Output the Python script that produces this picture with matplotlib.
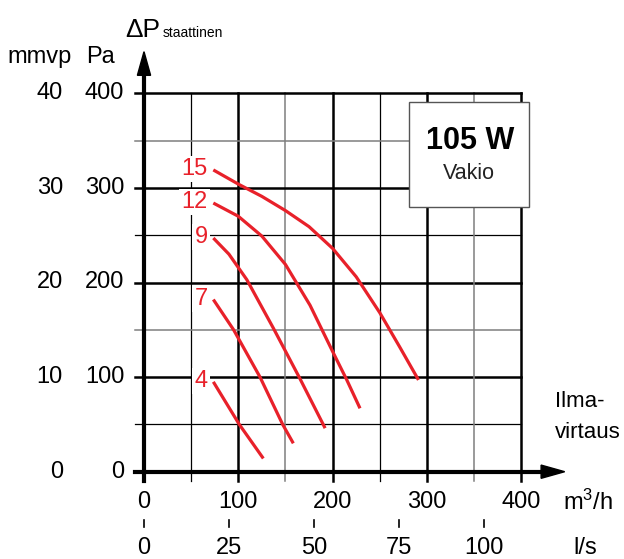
import matplotlib
matplotlib.use("Agg")
from matplotlib import pyplot as plt, patches

plt.rcParams["font.family"] = ["Liberation Sans", "DejaVu Sans"]
plt.rcParams["mathtext.fontset"] = "custom"
plt.rcParams["mathtext.rm"] = "Liberation Sans"
plt.rcParams["mathtext.it"] = "Liberation Sans"

# fan curves: airflow m3/h -> static pressure Pa, one per control voltage
curve_names = ["15", "12", "9", "7", "4"]
flow_15 = [73.5, 100, 125, 150, 175, 200, 225, 250, 271, 291]
pa_15 = [319, 304, 291, 276, 259, 236, 206, 168, 132, 97]
flow_12 = [73.5, 100, 125, 150, 176, 200, 215, 229]
pa_12 = [284, 270, 249, 219, 176, 127, 97, 67]
flow_9 = [73.5, 90, 109, 137, 165, 192]
pa_9 = [247, 230, 203, 152, 99, 46]
flow_7 = [73.5, 95, 123, 147, 158.3]
pa_7 = [182, 150, 100, 50, 30]
flow_4 = [73.5, 101, 126.5]
pa_4 = [95, 50, 14]
curves = [(flow_15, pa_15), (flow_12, pa_12), (flow_9, pa_9),
          (flow_7, pa_7), (flow_4, pa_4)]

m3h_ticks = [0, 100, 200, 300, 400]
ls_ticks = [0, 25, 50, 75, 100]
pa_ticks = [0, 100, 200, 300, 400]
mmvp_ticks = [0, 10, 20, 30, 40]

RED = "#e8212a"
GREY = "#7f7f7f"
FS = 17

fig = plt.figure(figsize=(6.24, 5.59), dpi=100)
ax = fig.add_axes([144 / 624, 1 - 471.7 / 559, 377.3 / 624, 378.4 / 559])
ax.set_xlim(0, 400)
ax.set_ylim(0, 400)
ax.axis("off")

# grid ======================
ext = -9.5
for v in [50, 100, 150, 200, 250, 300, 350, 400]:
    if v % 100 == 0:
        kw = dict(color="black", lw=1.8)
    elif v in (150, 350):
        kw = dict(color=GREY, lw=1.1)
    else:
        kw = dict(color="black", lw=0.9)
    ax.plot([v, v], [ext, 400], clip_on=False, zorder=1, **kw)
    ax.plot([ext, 400], [v, v], clip_on=False, zorder=1, **kw)

# axes with arrows
ax.plot([0, 0], [ext, 425], color="black", lw=3, clip_on=False, zorder=3)
ax.plot([ext, 425], [0, 0], color="black", lw=3, clip_on=False, zorder=3)
ax.add_patch(patches.Polygon([[-7, 419], [7, 419], [0, 444]], closed=True,
                             color="black", clip_on=False, zorder=3))
ax.add_patch(patches.Polygon([[421, -7], [421, 7], [446, 0]], closed=True,
                             color="black", clip_on=False, zorder=3))

# curves ====================
for name, (fx, py) in zip(curve_names, curves):
    ax.plot(fx, py, color=RED, lw=2.3, solid_capstyle="butt",
            solid_joinstyle="round", zorder=4)
    ax.text(67.5, py[0] + 1, name, color=RED, fontsize=FS, ha="right", va="center",
            zorder=5, bbox=dict(fc="white", ec="none", pad=1.5))

# tick labels ===============
for v in m3h_ticks:
    ax.text(v, -32, str(v), fontsize=FS, ha="center", va="center", clip_on=False)
ax.text(444, -32, "m$^3$/h", fontsize=FS, ha="left", va="center")

for v in ls_ticks:
    x = v * 3.6
    ax.plot([x, x], [-51, -58.5], color="black", lw=1.2, clip_on=False)
    ax.text(x, -81, str(v), fontsize=FS, ha="center", va="center")
ax.text(467.6, -81, "l/s", fontsize=FS, ha="center", va="center")

for p, m in zip(pa_ticks, mmvp_ticks):
    ax.text(-21, p, str(p), fontsize=FS, ha="right", va="center")
    ax.text(-86, p, str(m), fontsize=FS, ha="right", va="center")

ax.text(-110.3, 438, "mmvp", fontsize=FS, ha="center", va="center")
ax.text(-45.8, 438, "Pa", fontsize=FS, ha="center", va="center")
ax.text(-20, 460, "ΔP", fontsize=19, ha="left", va="baseline")
ax.text(20, 460, "staattinen", fontsize=10, ha="left", va="baseline")

ax.text(436, 74, "Ilma-", fontsize=16, ha="left", va="center")
ax.text(436, 41, "virtaus", fontsize=16, ha="left", va="center")

# info box ==================
ax.add_patch(patches.Rectangle((281, 280), 127.3, 111, fc="white", ec="#555555",
                               lw=1.0, clip_on=False, zorder=6))
ax.text(345.7, 349.8, "105 W", fontsize=22, fontweight="bold", ha="center",
        va="center", zorder=7)
ax.text(344.5, 315.4, "Vakio", fontsize=15.5, ha="center", va="center",
        color="#222222", zorder=7)

fig.savefig("out.png", dpi=100)
